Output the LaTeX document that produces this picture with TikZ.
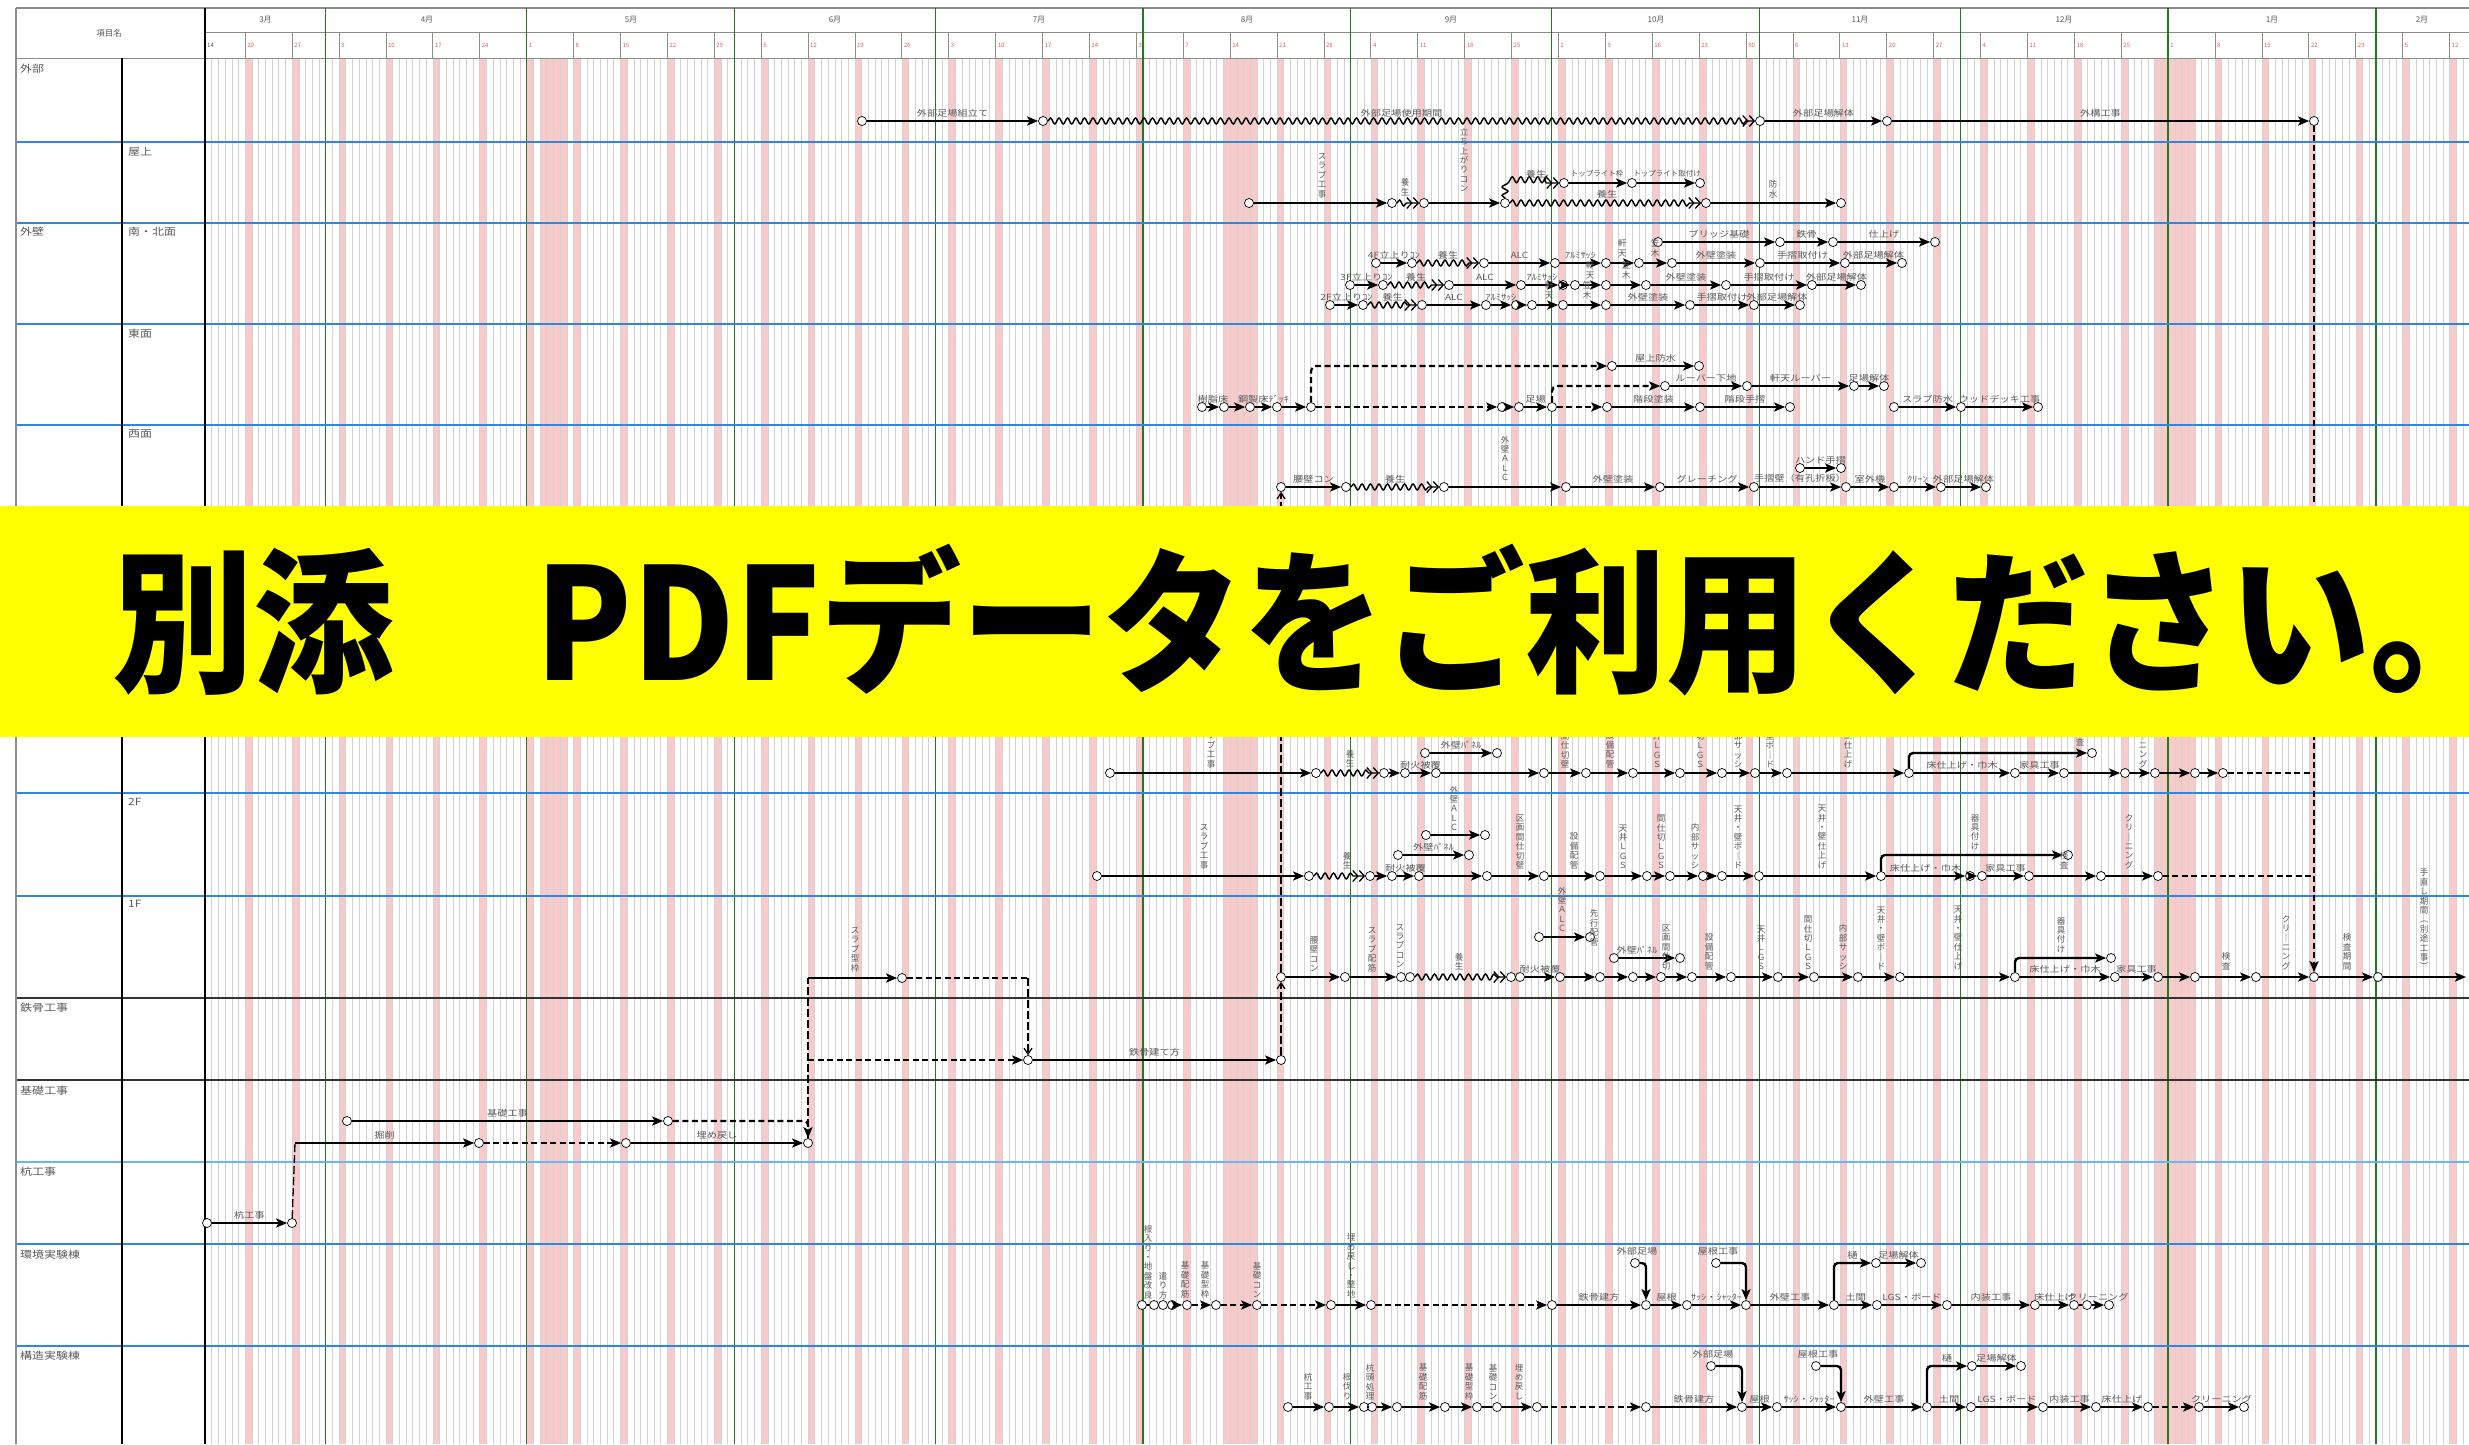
\documentclass[tikz,border=0pt]{standalone}
\usepackage{fontspec}
\usepackage{graphicx}
\usetikzlibrary{arrows.meta,decorations.pathmorphing}
\newfontfamily\jp{Noto Sans CJK JP}
\newfontfamily\jpl{Noto Sans CJK JP}[FakeStretch=1.2]
\definecolor{labgray}{HTML}{5A5A5A}
\definecolor{pinkcol}{HTML}{F8CACA}
\definecolor{dayline}{HTML}{D2D2D2}
\definecolor{rowblue}{HTML}{2E86DE}
\definecolor{lightblue}{HTML}{6BB6F0}
\definecolor{mgreen}{HTML}{1E7B1E}
\definecolor{hdrgray}{HTML}{8C8C8C}
\definecolor{bannery}{HTML}{FFFF00}
\definecolor{dayred}{HTML}{E05A5A}
\newcommand\vtx[1]{\vtfirst#1\relax}
\def\vtfirst#1{#1\vtrest}
\def\vtrest#1{\ifx#1\relax\else\\#1\expandafter\vtrest\fi}
\newcommand\evrow[3]{\foreach \xx [count=\i] in {#3} {\node[ev] (#1\i) at (\xx,#2) {};}}
\newcommand\edges[2]{\foreach \st/\lb [count=\i] in {#2} {\pgfmathtruncatemacro\j{\i+1}\draw[\st] (#1\i) -- node[lab] (#1l\i) {\lb} (#1\j);}}
\newcommand\vlabs[2]{\foreach \xx/\yy/\vtext [count=\k] in {#2} {\node[vlab] (#1\k) at (\xx,\yy) {\expandafter\vtx\expandafter{\vtext}};}}
\tikzset{
 ev/.style={circle, draw=black, line width=0.7pt, fill=white, minimum size=9pt, inner sep=0pt},
 act/.style={line width=2.4pt, -{Stealth[length=11pt,width=9pt,inset=2.5pt]}},
 dsh/.style={line width=2.2pt, dash pattern=on 6pt off 3.5pt, -{Stealth[length=11pt,width=9pt,inset=2.5pt]}},
 dshn/.style={line width=2.2pt, dash pattern=on 6pt off 3.5pt},
 pln/.style={line width=2.2pt},
 vln/.style={line width=1.3pt, dash pattern=on 8pt off 3pt},
 vdsh/.style={line width=1.3pt, dash pattern=on 8pt off 3pt, -{Straight Barb[length=6pt,width=8pt,line width=1.2pt]}},
 wav/.style={line width=1.4pt, decorate, decoration={snake, amplitude=3pt, segment length=8.5pt, post length=9pt},
   -{Straight Barb[length=5pt,width=11pt,line width=1.3pt] Straight Barb[length=5pt,width=11pt,line width=1.3pt]}},
 lab/.style={midway, above=2.5pt, inner sep=0.5pt, text=labgray, font=\jpl\fontsize{8.5}{9}\selectfont},
 tlab/.style={inner sep=0.5pt, text=labgray, font=\jpl\fontsize{8.5}{9}\selectfont},
 vlab/.style={anchor=south, inner sep=0pt, text=labgray, align=center, font=\jp\fontsize{8.5}{9.4}\selectfont},
 rowlab/.style={anchor=north west, inner sep=0pt, text=labgray, font=\jpl\fontsize{10}{11}\selectfont},
 hdr/.style={inner sep=0pt, text=labgray, font=\jp\fontsize{8}{9}\selectfont},
 daylab/.style={anchor=west, inner sep=0pt, text=dayred, font=\jp\fontsize{6}{7}\selectfont},
}
\begin{document}
\begin{tikzpicture}[x=1pt,y=-1pt]
\useasboundingbox (0,0) rectangle (2469,1444);
\fill[white] (0,0) rectangle (2469,1444);
% ---- calendar grid ----
\foreach \k in {0,...,47} {\fill[pinkcol] ({205+6.7*(6+7*\k)},58) rectangle ++(6.7,1386);}
\fill[pinkcol] ({205+6.7*50},58) rectangle ({205+6.7*54},1444);
\fill[pinkcol] ({205+6.7*152},58) rectangle ({205+6.7*157},1444);
\fill[pinkcol] ({205+6.7*291},58) rectangle ({205+6.7*297},1444);
\foreach \d in {0,...,337} {\draw[dayline, line width=0.45pt] ({205+6.7*\d},58) -- ++(0,1386);}
% header
\draw[hdrgray, line width=1.5pt] (16,8) -- (2469,8);
\draw[hdrgray, line width=0.8pt] (205,32) -- (2469,32);
\draw[hdrgray, line width=1pt] (16,58) -- (2469,58);
\node[hdr, font=\jp\fontsize{8.5}{9}\selectfont] (hd) at (109,33) {項目名};
\foreach \mx/\mt [count=\k] in {265.5/3月, 427/4月, 631/5月, 835/6月, 1039/7月, 1247/8月, 1451/9月, 1656/10月, 1860/11月, 2064/12月, 2272/1月, 2422/2月} {\node[hdr] (mo\k) at (\mx,20) {\mt};}
\node[daylab, text=labgray] (dn0) at (207,45) {14};
\foreach \dl [count=\k from 0] in {20,27,3,10,17,24,1,8,15,22,29,5,12,19,26,3,10,17,24,31,7,14,21,28,4,11,18,25,2,9,16,23,30,6,13,20,27,4,11,18,25,1,8,15,22,29,5,12} {
  \draw[hdrgray, line width=0.7pt] ({205+6.7*(6+7*\k)},32) -- ++(0,26);
  \node[daylab] (dd\k) at ({207+6.7*(6+7*\k)},45) {\dl};}
\foreach \d in {18,48,79,109,140,171,201,232,262,293,324} {\draw[mgreen, line width=1.4pt] ({205+6.7*\d},8) -- ({205+6.7*\d},1444);}
% row lines
\foreach \yy in {142,223,324,425,793,896,1244,1346} {\draw[rowblue, line width=2.2pt] (16,\yy) -- (2469,\yy);}
\draw[lightblue, line width=1.2pt] (16,1162) -- (2469,1162);
\draw[black!80, line width=2pt] (16,998) -- (2469,998);
\draw[black!80, line width=2pt] (16,1080) -- (2469,1080);
\draw[hdrgray, line width=1.5pt] (16,8) -- (16,1444);
\draw[black, line width=2.2pt] (122,58) -- (122,1444);
\draw[black, line width=1.3pt] (205,8) -- (205,1444);
% row labels
\node[rowlab] (r1) at (20,64) {外部};
\node[rowlab] (r2) at (128,147) {屋上};
\node[rowlab] (r3) at (20,227) {外壁};
\node[rowlab] (r4) at (128,227) {南・北面};
\node[rowlab] (r5) at (128,329) {東面};
\node[rowlab] (r6) at (128,430) {西面};
\node[rowlab] (r7) at (128,798) {2F};
\node[rowlab] (r8) at (128,900) {1F};
\node[rowlab] (r9) at (20,1003) {鉄骨工事};
\node[rowlab] (r10) at (20,1086) {基礎工事};
\node[rowlab] (r11) at (20,1167) {杭工事};
\node[rowlab] (r12) at (20,1250) {環境実験棟};
\node[rowlab] (r13) at (20,1351) {構造実験棟};
% ---- 外部 ----
\evrow{oa}{121}{862,1043,1760,1887,2314}
\edges{oa}{act/外部足場組立て, wav/外部足場使用期間, act/外部足場解体, act/外構工事}
% ---- 屋上 ----
\evrow{rm}{203}{1249,1392,1424,1505,1706,1841}
\edges{rm}{act/, wav/, act/, wav/, act/}
\evrow{ru}{183}{1564,1632,1700}
\edges{ru}{act/, act/}
\draw[wav] (rm4) |- (ru1);
\node[tlab, font=\jp\fontsize{7.5}{8}\selectfont] (rut1) at (1597,174) {トップライト枠};
\node[tlab, font=\jp\fontsize{7.5}{8}\selectfont] (rut2) at (1667,174) {トップライト取付け};
\node[tlab] (rul1) at (1536,174) {養生};
\node[tlab] (rul2) at (1607,194) {養生};
\vlabs{rv}{1322/198/スラブ工事, 1405/196/養生, 1464/192/立ち上がりコン, 1773/198/防水}
% ---- 南・北面 ----
\evrow{nt}{242}{1658,1780,1833,1935}
\edges{nt}{act/ブリッジ基礎, act/鉄骨, act/仕上げ}
\evrow{nd}{263}{1376,1412,1484,1555,1606,1639,1672,1760,1845,1902}
\edges{nd}{act/4F立上りｺﾝ, wav/養生, act/ALC, act/ｱﾙﾐｻｯｼ, act/, act/, act/外壁塗装, act/手摺取付け, act/外部足場解体}
\evrow{nc}{285}{1350,1383,1449,1521,1563,1575,1606,1646,1726,1812,1861}
\edges{nc}{act/3F立上りｺﾝ, wav/養生, act/ALC, act/ｱﾙﾐｻｯｼ, act/, act/, act/, act/外壁塗装, act/手摺取付け, act/外部足場解体}
\evrow{nb}{305}{1330,1363,1422,1486,1516,1532,1563,1606,1690,1754,1800}
\edges{nb}{act/2F立上りｺﾝ, wav/養生, act/ALC, act/ｱﾙﾐｻｯｼ, act/, act/, act/, act/外壁塗装, act/手摺取付け, act/外部足場解体}
\vlabs{nv}{1622/257/軒天, 1655/257/笠木, 1590/279/軒天, 1626/279/笠木, 1549/299/軒天, 1587/299/笠木}
% ---- 東面 ----
\evrow{em}{407}{1202,1224,1250,1277,1311,1502,1519,1552,1607,1700,1790}
\edges{em}{act/樹脂床, act/, act/鋼製床ﾃﾞｯｷ, act/, dsh/, act/, act/足場, dsh/, act/階段塗装, act/階段手摺}
\evrow{es}{407}{1894,1961,2038}
\edges{es}{act/スラブ防水, act/ウッドデッキ工事}
\evrow{ea}{366}{1612,1699}
\edges{ea}{act/屋上防水}
\evrow{eb}{386}{1665,1747,1854,1884}
\edges{eb}{act/ルーバー下地, act/軒天ルーバー, act/足場解体}
\draw[dsh, rounded corners=5pt] (em5) |- (ea1);
\draw[dsh, rounded corners=5pt] (em8) |- (eb1);
% ---- 西面 ----
\evrow{wm}{487}{1281,1346,1444,1566,1660,1754,1846,1894,1941,1986}
\edges{wm}{act/腰壁コン, wav/養生, act/, act/外壁塗装, act/グレーチング, act/手摺壁（有孔折板）, act/室外機, act/ｸﾘｰﾝ, act/外部足場解体}
\evrow{wu}{468}{1800,1841}
\edges{wu}{act/ハンド手摺}
\vlabs{wv}{1505/481/外壁ＡＬＣ}
% ---- 3F (under banner) ----
\evrow{tc}{773}{1110,1316,1384,1405,1436,1544,1586,1633,1680,1722,1755,1787,1909,2015,2064,2125,2155,2195,2223}
\edges{tc}{act/, wav/, act/, act/耐火被覆, act/, act/, act/, act/, act/, act/, act/, act/, act/床仕上げ・巾木, act/家具工事, act/, act/, act/, act/}
\coordinate (c3r) at (2314,773);
\draw[dshn] (tc19) -- (c3r);
\evrow{tca}{753}{1425,1497}
\edges{tca}{act/外壁ﾊﾟﾈﾙ}
\node[ev] (tck) at (2092,753) {};
\draw[act, rounded corners=4pt] (tc13) |- (tck);
\vlabs{tcv}{1211/768/スラブ工事, 1350/767/養生, 1565/768/区画間仕切壁, 1610/768/設備配管, 1657/768/天井ＬＧＳ, 1700/768/間仕切ＬＧＳ, 1738/768/内部サッシ, 1770/768/天井・壁ボ｜ド, 1848/768/天井・壁仕上げ, 2080/746/検査, 2143/768/クリ｜ニング}
% ---- 2F ----
\evrow{tb}{876}{1097,1309,1370,1392,1419,1487,1544,1600,1647,1670,1703,1722,1759,1881,1970,1982,2029,2101,2158}
\edges{tb}{act/, wav/, act/, act/耐火被覆, act/, act/, act/, act/, act/, act/, act/, act/, act/, act/床仕上げ・巾木, act/, act/家具工事, act/, act/}
\coordinate (c2r) at (2314,876);
\draw[dshn] (tb19) -- (c2r);
\evrow{tba}{835}{1426,1485}
\edges{tba}{act/}
\evrow{tbb}{855}{1398,1469}
\edges{tbb}{act/外壁ﾊﾟﾈﾙ}
\node[ev] (tbk) at (2068,855) {};
\draw[act, rounded corners=4pt] (tb14) |- (tbk);
\vlabs{tbv}{1204/869/スラブ工事, 1347/869/養生, 1454/831/外壁ＡＬＣ, 1520/869/区画間仕切壁, 1574/869/設備配管, 1623/869/天井ＬＧＳ, 1661/869/間仕切ＬＧＳ, 1695/869/内部サッシ, 1738/869/天井・壁ボ｜ド, 1822/869/天井・壁仕上げ, 1975/850/器具付け, 2064/869/検査, 2129/869/クリ｜ニング}
% ---- 1F ----
\evrow{ta}{977}{1281,1345,1401,1410,1511,1520,1560,1600,1633,1661,1692,1731,1778,1814,1858,1900,2015,2115,2158,2195,2256,2314,2378}
\edges{ta}{act/, act/, pln/, wav/, pln/, act/耐火被覆, act/, act/, act/, act/, act/, act/, act/, act/, act/, act/, act/床仕上げ・巾木, act/家具工事, act/, act/, act/, act/}
\coordinate (taend) at (2466,977);
\draw[act] (ta23) -- (taend);
\evrow{taa}{937}{1539,1590}
\edges{taa}{act/}
\evrow{tab}{958}{1614,1680}
\edges{tab}{act/}
\node[tlab] (tabl) at (1637,950) {外壁ﾊﾟﾈﾙ};
\node[ev] (tak) at (2111,958) {};
\draw[act, rounded corners=4pt] (ta17) |- (tak);
\vlabs{tav}{1314/972/腰壁コン, 1372/972/スラブ配筋, 1400/968/スラブコン, 1459/970/養生, 1562/932/外壁ＡＬＣ, 1594/946/先行配管, 1666/970/区画間仕切, 1709/970/設備配管, 1761/970/天井ＬＧＳ, 1808/970/間仕切ＬＧＳ, 1843/970/内部サッシ, 1881/970/天井・壁ボ｜ド, 1958/970/天井・壁仕上げ, 2061/953/器具付け, 2226/970/検査, 2286/970/クリ｜ニング, 2347/970/検査期間, 2424/970/手直し期間︵別途工事︶}
% ---- 鉄骨 / 基礎 / 杭 ----
\evrow{st}{1060}{1028,1281}
\edges{st}{act/鉄骨建て方}
\evrow{ku}{1121}{347,668}
\edges{ku}{act/基礎工事}
\evrow{kl}{1143}{479,626,808}
\edges{kl}{dsh/, act/埋め戻し}
\draw[dsh, rounded corners=4pt] (ku2) -| (kl3);
\evrow{pk}{1223}{207,292}
\edges{pk}{act/杭工事}
\coordinate (klc) at (295,1143);
\draw[vln] (pk2) -- (klc);
\draw[act] (klc) -- node[lab] (kll0) {掘削} (kl1);
\node[ev] (sk1) at (902,978) {};
\coordinate (skc) at (808,978);
\coordinate (skr) at (1028,978);
\coordinate (s1c) at (808,1060);
\draw[vln] (kl3) -- (skc);
\draw[act] (skc) -- (sk1);
\vlabs{skv}{855/972/スラブ型枠}
\draw[dsh] (s1c) -- (st1);
\draw[dshn] (sk1) -- (skr);
\draw[vdsh] (skr) -- (st1);
\draw[vdsh] (st2) -- (ta1);
\draw[vdsh] (ta1) -- (wm1);
\draw[dsh] (oa5) -- (ta22);
% ---- 環境実験棟 ----
\evrow{xa}{1305}{1142,1154,1163,1172,1187,1216,1257,1331,1371,1552,1646,1687,1746,1834,1877,1947,2035,2074,2087,2109}
\edges{xa}{pln/, pln/, pln/, act/, dsh/, dsh/, dsh/, act/, dsh/, act/鉄骨建方, act/屋根, act/ｻｯｼ・ｼｬｯﾀｰ, act/外壁工事, act/土間, act/LGS・ボード, act/内装工事, act/床仕上げ, pln/, act/クリーニング}
\node[ev] (xu1) at (1635,1263) {};
\draw[act, rounded corners=4pt] (xu1) -| (xa11);
\node[ev] (xv1) at (1716,1263) {};
\draw[act, rounded corners=4pt] (xv1) -| (xa13);
\evrow{xw}{1263}{1876,1921}
\edges{xw}{act/足場解体}
\draw[act, rounded corners=4pt] (xa14) |- node[lab, pos=0.75] (xwt) {樋} (xw1);
\node[tlab] (xul) at (1637,1251) {外部足場};
\node[tlab] (xvl) at (1718,1251) {屋根工事};
\vlabs{xav}{1148/1299/根入り・地盤改良, 1163/1299/遣り方, 1185/1298/基礎配筋, 1205/1298/基礎型枠, 1257/1298/基礎コン, 1351/1298/埋め戻し・整地}
% ---- 構造実験棟 ----
\evrow{za}{1407}{1288,1329,1364,1372,1397,1445,1477,1497,1537,1646,1742,1777,1841,1927,1971,2043,2096,2148,2199,2244}
\edges{za}{act/, act/, pln/, act/, act/, act/, pln/, act/, dsh/, act/鉄骨建方, act/屋根, act/ｻｯｼ・ｼｬｯﾀｰ, act/外壁工事, act/土間, act/LGS・ボード, act/内装工事, act/床仕上げ, dsh/, act/クリーニング}
\node[ev] (zu1) at (1711,1366) {};
\draw[act, rounded corners=4pt] (zu1) -| (za11);
\node[ev] (zv1) at (1816,1366) {};
\draw[act, rounded corners=4pt] (zv1) -| (za13);
\evrow{zw}{1366}{1972,2021}
\edges{zw}{act/足場解体}
\draw[act, rounded corners=4pt] (za14) |- node[lab, pos=0.75] (zwt) {樋} (zw1);
\node[tlab] (zul) at (1713,1354) {外部足場};
\node[tlab] (zvl) at (1818,1354) {屋根工事};
\vlabs{zav}{1308/1400/杭工事, 1347/1400/根伐り, 1370/1400/杭頭処理, 1423/1400/基礎配筋, 1469/1400/基礎型枠, 1493/1400/基礎コン, 1519/1400/埋め戻し}
% ---- banner ----
\fill[bannery] (0,506) rectangle (2469,737);
\node[inner sep=0pt, text=black] (bn) at (1277,620) {\resizebox*{2326pt}{152pt}{\jp\bfseries 別添　PDFデータをご利用ください｡}};
\end{tikzpicture}
\end{document}
